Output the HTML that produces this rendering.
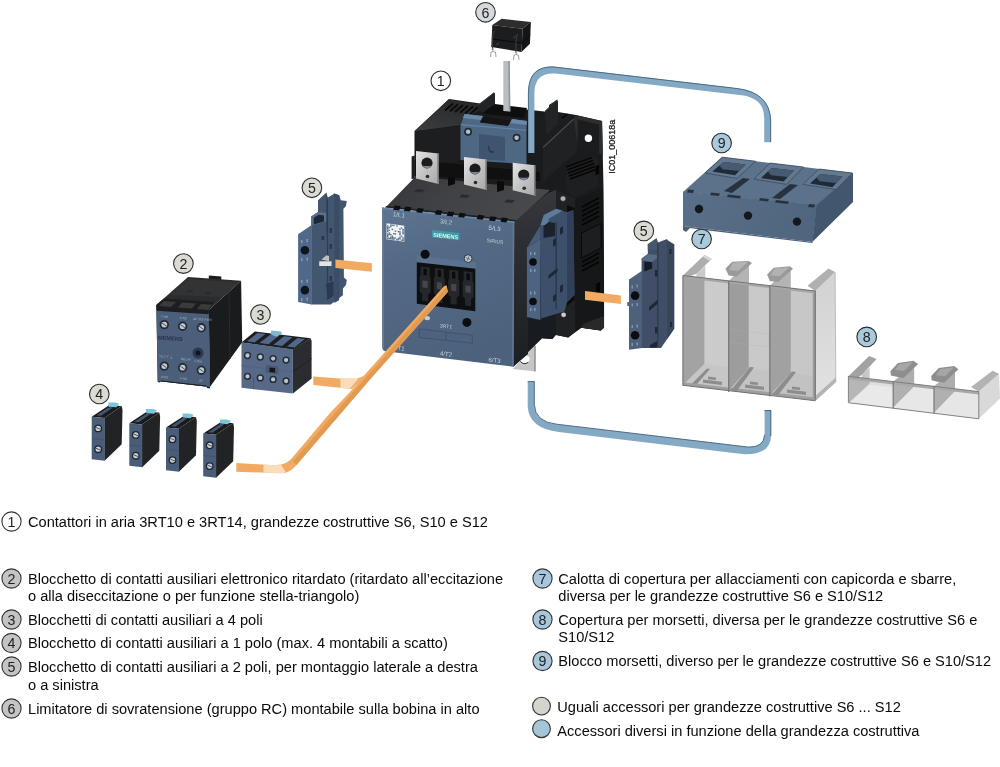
<!DOCTYPE html>
<html><head><meta charset="utf-8">
<style>
html,body{margin:0;padding:0;background:#fff;}
body{width:1000px;height:767px;position:relative;overflow:hidden;font-family:"Liberation Sans",sans-serif;}
svg{position:absolute;left:0;top:0;will-change:transform;}
text{font-family:"Liberation Sans",sans-serif;}
.t{font-size:14.61px;fill:#0a0a0a;}
.n{font-size:14.2px;fill:#222;text-anchor:middle;}
</style></head><body>
<svg id="art" width="1000" height="767" viewBox="0 0 1000 767">
<defs>
<linearGradient id="gFront" x1="0.1" y1="0" x2="0.4" y2="1">
<stop offset="0" stop-color="#5c7491"/><stop offset="0.35" stop-color="#536a86"/><stop offset="1" stop-color="#4c617c"/>
</linearGradient>
<linearGradient id="gSilver" x1="0" y1="0" x2="1" y2="1">
<stop offset="0" stop-color="#e4e4e4"/><stop offset="0.5" stop-color="#c4c4c4"/><stop offset="1" stop-color="#a8a8a8"/>
</linearGradient>
<linearGradient id="gBlackTop" x1="0" y1="0" x2="0" y2="1">
<stop offset="0" stop-color="#2a2b2d"/><stop offset="1" stop-color="#3d3e40"/>
</linearGradient>
<linearGradient id="gTube" x1="0" y1="0" x2="1" y2="0">
<stop offset="0" stop-color="#86aac6"/><stop offset="0.6" stop-color="#7ea4c2"/><stop offset="1" stop-color="#5f87a6"/>
</linearGradient>
<linearGradient id="gCov1" x1="0" y1="0" x2="1" y2="0">
<stop offset="0" stop-color="#9c9c9c"/><stop offset="0.45" stop-color="#a6a6a6"/><stop offset="0.46" stop-color="#cbcbcb"/><stop offset="1" stop-color="#c4c4c4"/>
</linearGradient>
<linearGradient id="gCovSide" x1="0" y1="0" x2="0" y2="1">
<stop offset="0" stop-color="#d2d2d2"/><stop offset="1" stop-color="#e2e2e2"/>
</linearGradient>
<linearGradient id="gTopFace" x1="0" y1="0" x2="1" y2="0.3">
<stop offset="0" stop-color="#343639"/><stop offset="0.5" stop-color="#404245"/><stop offset="1" stop-color="#47494c"/>
</linearGradient>
<linearGradient id="gCovBase" x1="0" y1="0" x2="1" y2="0">
<stop offset="0" stop-color="#cdcdcd"/><stop offset="1" stop-color="#c6c6c6"/>
</linearGradient>
<linearGradient id="gRearTop" x1="0.8" y1="0" x2="0.2" y2="1">
<stop offset="0" stop-color="#262729"/><stop offset="1" stop-color="#3a3b3d"/>
</linearGradient>
<linearGradient id="g9front" x1="0" y1="0" x2="1" y2="0.2">
<stop offset="0" stop-color="#5a7089"/><stop offset="1" stop-color="#50657e"/>
</linearGradient>
<linearGradient id="gSideFace" x1="0" y1="0" x2="0" y2="1">
<stop offset="0" stop-color="#36383c"/><stop offset="0.35" stop-color="#2a2d32"/><stop offset="1" stop-color="#1c1f24"/>
</linearGradient>
</defs>

<g id="contactor">
<!-- silver mounting foot bottom -->
<polygon points="512.800,368.900 534.300,345.400 535.600,346 535.600,371.500" fill="#c6c6c6"/>
<polygon points="534.300,345.400 535.600,346 535.600,371.500 534.300,371.300" fill="#8a8a8a"/>
<ellipse cx="524.800" cy="359.600" rx="5" ry="4" fill="#fff" transform="rotate(-25 524.800 359.600)"/>
<path d="M520.300,361.300 Q523.500,365.500 528.300,362.300" fill="none" stroke="#2a2a2a" stroke-width="1"/>
<!-- black rear body silhouette -->
<polygon points="414.5,131 449,99 487,104.5 487,98 494,92.5 495,106 549,112 549,105 557.5,99.5 558,112 576,115 602,121 603.5,188 604,262 604.100,327.800 600.800,330.400 581.300,327.800 568.200,337.600 554,334.500 552.500,339 542.200,338.200 520,300 414.500,176" fill="#1a1b1d"/>
<!-- top face of rear body (left) -->
<polygon points="414.800,131.200 448.600,99.600 486,105.500 462.200,121 460.900,125" fill="url(#gRearTop)"/>
<polygon points="416,131 462,126 462,160 416,174" fill="#1d1e20"/>
<!-- vents on top-left -->
<g stroke="#0b0b0c" stroke-width="1.8">
<line x1="445" y1="110.5" x2="453" y2="103.5"/><line x1="450" y1="111.3" x2="458" y2="104.3"/><line x1="455" y1="112" x2="463" y2="105"/><line x1="460" y1="112.8" x2="468" y2="105.8"/><line x1="465" y1="113.5" x2="473" y2="106.5"/><line x1="470" y1="114.3" x2="478" y2="107.3"/>
</g>
<!-- recess behind coil block -->
<polygon points="480,110 495,104 527,108 524,118 486,114" fill="#0e0e0f"/>
<!-- left fin -->
<polygon points="477.800,105.200 494.100,92.800 495,93.600 495,104 483,112.500 479.100,110.400" fill="#232426"/>
<line x1="477.800" y1="105.200" x2="494.100" y2="92.800" stroke="#3c3d3f" stroke-width="0.900"/>
<!-- right top face -->
<polygon points="536,120 549,112 576,115.500 573.700,119 543,147.400 536,140" fill="#1c1d1f"/>
<polygon points="545,111.300 556.300,100.500 558,101.500 558,123.800 546.300,135" fill="#232426"/>
<line x1="545" y1="111.300" x2="556.300" y2="100.500" stroke="#3a3b3d" stroke-width="1"/>
<polygon points="561.500,117.500 567,113.500 568,114.500 562.500,118.500" fill="#060606"/>
<!-- wall -->
<polygon points="543,147.400 573.700,119 577,121 577,152 560,166 543,182" fill="#202123"/>
<line x1="543" y1="147.400" x2="573.700" y2="119" stroke="#47484a" stroke-width="1.300"/>
<!-- right mounting plate -->
<polygon points="573.700,119 575.700,115.200 602.100,121 603,156.500 599.100,153.300 577.700,144.500" fill="#2d2e30"/>
<polygon points="577.700,119.600 599.100,124.400 599.100,153.300 577.700,144.500" fill="#1b1c1e"/>
<circle cx="588.400" cy="138.200" r="3.700" fill="#fff"/>
<!-- right-side vents upper -->
<polygon points="566,166 590,156 598,158 598,186 574,198 566,190" fill="#1e1f21"/>
<g stroke="#060606" stroke-width="1.4">
<line x1="566" y1="167" x2="592" y2="157.5"/><line x1="567" y1="170" x2="593" y2="160.5"/><line x1="568" y1="173" x2="594" y2="163.5"/><line x1="569" y1="176" x2="595" y2="166.5"/><line x1="570" y1="179" x2="596" y2="169.5"/>
</g>
<rect x="595.5" y="166" width="3.6" height="9" fill="#050505" transform="skewY(-25) translate(0,278)"/>
<!-- right side face panels -->
<polygon points="575,200 603,188 604,327.500 600.800,330.400 581.300,327.800 575,332" fill="#161718"/>
<polygon points="556,190 575,198 575,332 568.200,337.600 556,335" fill="#202123"/>
<polygon points="567,205 574.500,208 574.500,300 567,306" fill="#0c0c0d"/>
<g stroke="#050505" stroke-width="1.6">
<line x1="582" y1="207" x2="599" y2="198"/><line x1="582" y1="211.5" x2="599" y2="202.5"/><line x1="582" y1="216" x2="599" y2="207"/><line x1="582" y1="220.500" x2="599" y2="211.5"/><line x1="582" y1="225" x2="599" y2="216"/>
<line x1="582" y1="262" x2="599" y2="253"/><line x1="582" y1="266.5" x2="599" y2="257.5"/><line x1="582" y1="271" x2="599" y2="262"/>
</g>
<polygon points="581.500,233 601,223.500 601,248 581.500,258" fill="#1d1e20" stroke="#090909" stroke-width="1"/>
<polygon points="596,284 600,282 600,292 596,294" fill="#050505"/>
<polygon points="581.300,327.800 600.800,330.400 604,327.500 604,316 583,324" fill="#29292b"/>
<!-- blue body right side face -->
<polygon points="515,221 548,193 556,190 556,335 552.500,339 542.200,338.200 513,367" fill="#181b20"/>
<polygon points="514,221 548,193 556,190 556,250 528,262 528,354 513.500,366.500" fill="url(#gSideFace)"/>
<!-- top face of blue body -->
<polygon points="385.500,207.500 414.100,178 414.700,176.200 550,190 515,221.500" fill="url(#gTopFace)"/>
<polygon points="385,207.300 386.300,206 516,220 515,221.500" fill="#1f2022"/>

<g fill="#2a2b2e">
<polygon points="417,189 425,189.800 422,192.500 414,191.700"/><polygon points="462,194.500 470,195.300 467,198 459,197.200"/><polygon points="507,199.500 515,200.300 512,203 504,202.200"/>
</g>
<g fill="#0b0b0c">
<polygon points="448,176 455,176.700 455,184 448,186"/><polygon points="497,181 504,181.700 504,190 497,192"/>
</g>
<polygon points="411.600,156.500 414.700,155.500 414.700,178.500 411.600,179" fill="#1d1e20"/>
<!-- black ledge behind terminals -->
<polygon points="414.500,160 540,172 540,181 414.500,176" fill="#101011"/>
<!-- blue coil block -->
<polygon points="460.500,125.500 464.500,114 483,116 480,122 508,125.500 512,119 527,121 526.500,127 526.500,164 460.500,160" fill="#4e6884"/>
<polygon points="464.500,114 483,116 481,120 463,118" fill="#6a88a8"/>
<polygon points="512,119 527,121 526.500,125 510,123" fill="#6a88a8"/>
<polygon points="483,117 511,120.500 508,126 480,122.500" fill="#141516"/>
<polygon points="479,134 505,137 505,161 479,159" fill="#3f546e"/>
<path d="M489,146 Q487.500,152.500 494,152" fill="none" stroke="#26354a" stroke-width="1.200"/>
<line x1="460.900" y1="124.600" x2="526.500" y2="130.200" stroke="#6383a6" stroke-width="1.100"/>
<circle cx="468.100" cy="131.800" r="3.100" fill="#bdbdbd" stroke="#1f2a3a" stroke-width="1.700"/>
<circle cx="516.600" cy="137.700" r="3.100" fill="#bdbdbd" stroke="#1f2a3a" stroke-width="1.700"/>
<!-- silver terminals -->
<g id="term">
<polygon points="416,151 438.500,153.500 438.500,184 416,178.500" fill="url(#gSilver)"/>
<polygon points="437.300,153.400 438.800,153.500 438.800,184.100 437.300,183.700" fill="#7c7c7c"/>
<ellipse cx="427" cy="163" rx="5.600" ry="5.400" fill="#1b1b1d"/>
<path d="M422.300,165.500 Q427,171.500 431.700,165.500 Q427,166.500 422.300,165.500Z" fill="#7a8694"/>
<circle cx="427.500" cy="176.500" r="1.800" fill="#2a2a2c"/>
</g>
<g transform="translate(48 6)">
<polygon points="416,151 438.500,153.500 438.500,184 416,178.500" fill="url(#gSilver)"/>
<polygon points="437.300,153.400 438.800,153.500 438.800,184.100 437.300,183.700" fill="#7c7c7c"/>
<ellipse cx="427" cy="163" rx="5.600" ry="5.400" fill="#1b1b1d"/>
<path d="M422.300,165.500 Q427,171.500 431.700,165.500 Q427,166.500 422.300,165.500Z" fill="#7a8694"/>
<circle cx="427.500" cy="176.500" r="1.800" fill="#2a2a2c"/>
</g>
<g transform="translate(96.700 11.800)">
<polygon points="416,151 438.500,153.500 438.500,184 416,178.500" fill="url(#gSilver)"/>
<polygon points="437.300,153.400 438.800,153.500 438.800,184.100 437.300,183.700" fill="#7c7c7c"/>
<ellipse cx="427" cy="163" rx="5.600" ry="5.400" fill="#1b1b1d"/>
<path d="M422.300,165.500 Q427,171.500 431.700,165.500 Q427,166.500 422.300,165.500Z" fill="#7a8694"/>
<circle cx="427.500" cy="176.500" r="1.800" fill="#2a2a2c"/>
</g>
<!-- front face -->
<path d="M382.200,207.500 L514.300,221.500 L513.600,366.800 L385,351.200 Q382.400,350.800 382.300,348 Z" fill="url(#gFront)"/>
<polygon points="512.800,221.300 514.300,221.500 513.600,366.800 512.100,366.600" fill="#6b83a0" opacity="0.7"/>
<polygon points="382.200,207.500 383.800,207.700 384.100,349.500 382.300,348" fill="#64798f"/>
<polygon points="382.200,207.500 514.300,221.500 514.300,223 382.200,209" fill="#6d87a6"/>
<g fill="#0d0e10"><polygon points="394.7,205.4 400.7,206.1 399.1,210.4 393.1,209.7"/><polygon points="405.5,206.6 411.5,207.3 409.9,211.6 403.9,210.9"/><polygon points="417.8,208.0 423.8,208.7 422.2,213.0 416.2,212.3"/><polygon points="436.5,210.1 442.5,210.8 440.9,215.1 434.9,214.4"/><polygon points="448.2,211.4 454.2,212.1 452.6,216.4 446.6,215.7"/><polygon points="459.8,212.7 465.8,213.4 464.2,217.7 458.2,217.0"/><polygon points="478.3,214.8 484.3,215.5 482.7,219.8 476.7,219.1"/><polygon points="490.6,216.2 496.6,216.9 495.0,221.2 489.0,220.5"/><polygon points="502.0,217.5 508.0,218.2 506.4,222.5 500.4,221.8"/></g>
<!-- QR -->
<g transform="translate(387 223.8) skewY(8.46) translate(-387 -223.8)">
<rect x="386.5" y="223.3" width="17.8" height="16" fill="#f2f4f6"/>
<g fill="#5d728d"><rect x="387.00" y="225.16" width="1.53" height="1.36"/><rect x="387.00" y="226.53" width="1.53" height="1.36"/><rect x="387.00" y="227.89" width="1.53" height="1.36"/><rect x="387.00" y="229.25" width="1.53" height="1.36"/><rect x="387.00" y="230.62" width="1.53" height="1.36"/><rect x="387.00" y="233.35" width="1.53" height="1.36"/><rect x="387.00" y="234.71" width="1.53" height="1.36"/><rect x="387.00" y="236.07" width="1.53" height="1.36"/><rect x="387.00" y="237.44" width="1.53" height="1.36"/><rect x="388.53" y="226.53" width="1.53" height="1.36"/><rect x="388.53" y="229.25" width="1.53" height="1.36"/><rect x="388.53" y="231.98" width="1.53" height="1.36"/><rect x="388.53" y="233.35" width="1.53" height="1.36"/><rect x="388.53" y="237.44" width="1.53" height="1.36"/><rect x="390.05" y="223.80" width="1.53" height="1.36"/><rect x="390.05" y="225.16" width="1.53" height="1.36"/><rect x="390.05" y="233.35" width="1.53" height="1.36"/><rect x="390.05" y="236.07" width="1.53" height="1.36"/><rect x="390.05" y="237.44" width="1.53" height="1.36"/><rect x="391.58" y="223.80" width="1.53" height="1.36"/><rect x="391.58" y="227.89" width="1.53" height="1.36"/><rect x="391.58" y="234.71" width="1.53" height="1.36"/><rect x="391.58" y="236.07" width="1.53" height="1.36"/><rect x="391.58" y="237.44" width="1.53" height="1.36"/><rect x="393.11" y="223.80" width="1.53" height="1.36"/><rect x="393.11" y="231.98" width="1.53" height="1.36"/><rect x="393.11" y="236.07" width="1.53" height="1.36"/><rect x="393.11" y="237.44" width="1.53" height="1.36"/><rect x="394.64" y="229.25" width="1.53" height="1.36"/><rect x="394.64" y="231.98" width="1.53" height="1.36"/><rect x="394.64" y="236.07" width="1.53" height="1.36"/><rect x="396.16" y="223.80" width="1.53" height="1.36"/><rect x="396.16" y="237.44" width="1.53" height="1.36"/><rect x="397.69" y="229.25" width="1.53" height="1.36"/><rect x="397.69" y="236.07" width="1.53" height="1.36"/><rect x="397.69" y="237.44" width="1.53" height="1.36"/><rect x="399.22" y="226.53" width="1.53" height="1.36"/><rect x="399.22" y="229.25" width="1.53" height="1.36"/><rect x="399.22" y="230.62" width="1.53" height="1.36"/><rect x="399.22" y="231.98" width="1.53" height="1.36"/><rect x="399.22" y="234.71" width="1.53" height="1.36"/><rect x="399.22" y="236.07" width="1.53" height="1.36"/><rect x="400.75" y="225.16" width="1.53" height="1.36"/><rect x="400.75" y="233.35" width="1.53" height="1.36"/><rect x="400.75" y="237.44" width="1.53" height="1.36"/><rect x="402.27" y="226.53" width="1.53" height="1.36"/><rect x="402.27" y="227.89" width="1.53" height="1.36"/><rect x="402.27" y="229.25" width="1.53" height="1.36"/><rect x="402.27" y="230.62" width="1.53" height="1.36"/><rect x="402.27" y="234.71" width="1.53" height="1.36"/><rect x="402.27" y="236.07" width="1.53" height="1.36"/><rect x="402.27" y="237.44" width="1.53" height="1.36"/></g>
</g>
<!-- siemens logo -->
<polygon points="432,230 459.500,233 459.500,240.200 432,237.200" fill="#3b9ba6"/>
<text x="445.700" y="238" font-size="5.600" font-weight="bold" fill="#e8f4f6" text-anchor="middle" transform="rotate(6.200 445.700 236)">SIEMENS</text>
<g font-size="6.200" fill="#c9d3df" text-anchor="middle">
<text x="398.800" y="217" transform="rotate(6.400 398.800 216)">1/L1</text>
<text x="446" y="224" transform="rotate(6.400 446 223)">3/L2</text>
<text x="494.500" y="230.500" transform="rotate(6.400 494.500 229)">5/L3</text>
<text x="495" y="243" font-size="5" transform="rotate(6.400 495 242)">SIRIUS</text>
<text x="446" y="328" font-size="5" transform="rotate(6.400 446 327)">3RT1</text>
<text x="401" y="350.500" transform="rotate(6.400 401 349)">T1</text>
<text x="446" y="356" transform="rotate(6.400 446 355)">4/T2</text>
<text x="494.500" y="362.500" transform="rotate(6.400 494.500 361)">6/T3</text>
</g>
<!-- connector block -->
<polygon points="416.800,255.800 476,262.300 476,269 416.800,262.500" fill="#5a718f"/>
<polygon points="416.800,262.200 475.300,268.700 475.300,311.200 416.800,303.800" fill="#0e0f11"/>
<polygon points="420.6,266.5 429.6,267.5 429.6,276.5 430.6,277.5 430.6,292.5 428.1,294.5 428.1,301.5 422.1,300.8 422.1,293.8 419.6,291.5 419.6,276.5 420.6,275.5" fill="#25272b"/><polygon points="422.5,280.5 427.7,281.1 427.7,288.1 422.5,287.5" fill="#44474c"/><polygon points="423.5,268.5 426.7,268.9 426.7,275.5 423.5,275.1" fill="#0a0a0c"/><polygon points="434.9,268.1 443.9,269.1 443.9,278.1 444.9,279.1 444.9,294.1 442.4,296.1 442.4,303.1 436.4,302.4 436.4,295.4 433.9,293.1 433.9,278.1 434.9,277.1" fill="#25272b"/><polygon points="436.8,282.1 442.0,282.7 442.0,289.7 436.8,289.1" fill="#44474c"/><polygon points="437.8,270.1 441.0,270.5 441.0,277.1 437.8,276.7" fill="#0a0a0c"/><polygon points="449.2,269.7 458.2,270.7 458.2,279.7 459.2,280.7 459.2,295.7 456.7,297.7 456.7,304.7 450.7,304.0 450.7,297.0 448.2,294.7 448.2,279.7 449.2,278.7" fill="#25272b"/><polygon points="451.1,283.7 456.3,284.3 456.3,291.3 451.1,290.7" fill="#44474c"/><polygon points="452.1,271.7 455.3,272.1 455.3,278.7 452.1,278.3" fill="#0a0a0c"/><polygon points="463.6,271.3 472.6,272.3 472.6,281.3 473.6,282.3 473.6,297.3 471.1,299.3 471.1,306.3 465.1,305.6 465.1,298.6 462.6,296.3 462.6,281.3 463.6,280.3" fill="#25272b"/><polygon points="465.5,285.3 470.7,285.9 470.7,292.9 465.5,292.3" fill="#44474c"/><polygon points="466.5,273.3 469.7,273.7 469.7,280.3 466.5,279.9" fill="#0a0a0c"/>
<circle cx="425.100" cy="254.300" r="4.500" fill="#0c0d0f"/>
<circle cx="468.100" cy="258.600" r="3.900" fill="#c4cace" stroke="#2b3848" stroke-width="1"/>
<path d="M465.800,257.600 L470.400,259.600 M469.100,256.300 L467.100,260.900" stroke="#5d666e" stroke-width="0.900"/>
<ellipse cx="427.200" cy="318.100" rx="2.800" ry="2.200" fill="#c8ccd0"/>
<circle cx="466.900" cy="322.400" r="4.500" fill="#0c0d0f"/>
<polygon points="419.300,328.900 472.400,335.300 472.400,343.200 419.300,337.500" fill="#4c627e" stroke="#3c4f67" stroke-width="0.800"/>
<line x1="446" y1="332.100" x2="446" y2="340.400" stroke="#3c4f67" stroke-width="0.800"/>
<!-- side aux block on contactor -->
<polygon points="540.500,238.900 540.500,225.200 543.800,215.100 556.200,208.800 567.100,212.300 573.400,210.100 574.500,295.100 567.100,301.900 564.400,311.500 541.100,318.400" fill="#3c506b"/>
<polygon points="526.900,247.500 540.500,238.900 540.500,320 526.900,317" fill="#4c6382"/>
<polygon points="527.400,247.100 540.500,225.200 540.500,238.900" fill="#465c79"/>
<polygon points="540.500,225.200 543.800,215.100 556.200,208.800 562.500,210.800 549,218.500 547.500,225" fill="#5f7b9b"/>
<polygon points="543.500,226 549,222 555,223 555,236 543.500,238" fill="#1a222e"/>
<polygon points="567.100,214 573.400,210.100 574.500,295.100 567.100,301.900" fill="#2f4058"/>
<line x1="556.200" y1="222" x2="556.200" y2="309" stroke="#26354a" stroke-width="1.200"/>
<g fill="#1d2838">
<polygon points="553,240 556,238 556,245 553,247"/><polygon points="548.500,275 557.500,268 557.500,272 548.500,279"/><polygon points="553,296 556,294 556,300 553,302"/>
<polygon points="560,228 563,226 563,233 560,235"/><polygon points="560,286 563,284 563,291 560,293"/>
</g>
<circle cx="533" cy="262" r="3.800" fill="#0b0c0e"/><circle cx="533" cy="301.500" r="3.800" fill="#0b0c0e"/>
<g fill="#7e93ad"><rect x="530" y="252" width="1.500" height="3"/><rect x="534" y="252" width="1.500" height="3"/><rect x="530" y="269" width="1.500" height="3"/><rect x="534" y="269" width="1.500" height="3"/><rect x="530" y="291.500" width="1.500" height="3"/><rect x="534" y="291.500" width="1.500" height="3"/><rect x="530" y="308" width="1.500" height="3"/><rect x="534" y="308" width="1.500" height="3"/></g>
<circle cx="563" cy="198.600" r="2.600" fill="#aeb4ba" stroke="#444" stroke-width="0.600"/><circle cx="563.600" cy="314.800" r="2.400" fill="#c8ccd0"/>
</g>

<g id="tubes">
<!-- gray rod from item 6 -->
<polygon points="503.300,61 509.800,61 510.300,111.500 503.300,111" fill="#b9bec3"/>
<polygon points="508.300,61 509.800,61 510.300,111.500 508.800,111.400" fill="#8f959b"/>
<!-- top blue tube -->
<path d="M528.200,153 L528.200,93 Q528.200,66 553,66.600 L737,88.200 Q769.500,92 771,120 L771,142.200 L764.200,142.200 L764.200,118 Q764.200,98 741.600,95.200 L555.600,73.500 Q534.400,72 534.400,93.400 L534.400,153 Z" fill="#84a9c4"/>
<path d="M528.400,110 L528.400,93 Q528.400,66.200 553,66.900 L737,88.500 Q769.300,92.300 770.700,120 L770.700,142" fill="none" stroke="#41617a" stroke-width="0.900"/>
<!-- bottom blue tube -->
<path d="M527.700,381.500 L527.700,406.500 Q529,428.500 558.800,432 L742.100,454.100 Q770.500,455.500 771.100,435.900 L771.100,410.300 L764.600,410.300 L764.600,434.800 Q764,447.500 748.400,447.100 L556.700,424.200 Q535,422 534.300,404.400 L534.300,381.500 Z" fill="#84a9c4"/>
<path d="M764.600,410.500 L771,410.500 M770.800,410.300 L770.800,435.900 M764.600,434.800 Q764,447.500 748.400,447.100 L556.700,424.200 Q535,422 534.300,404.400 L534.300,381.500 L527.700,381.700" fill="none" stroke="#41617a" stroke-width="0.900"/>
</g>

<g id="item6">
<polygon points="492.300,25 501.700,18.800 530.900,21.900 522.600,28.700" fill="#2c2d2f"/>
<polygon points="492.300,25 522.600,28.700 521.500,52 491.300,47" fill="#1c1d1f"/>
<polygon points="522.600,28.700 530.900,21.900 529.900,43.800 521.500,52" fill="#141516"/>
<line x1="491.800" y1="39" x2="522" y2="43" stroke="#0a0a0b" stroke-width="1"/>
<line x1="522" y1="43" x2="530.300" y2="35" stroke="#0a0a0b" stroke-width="1"/>
<g stroke="#3a3b3d" stroke-width="1.200" fill="none">
<path d="M494.500,31 Q492,33 492.500,50"/><path d="M518,34 Q515.500,36 516,53"/><path d="M496,45 L499,43"/><path d="M513,38 L516,36"/>
</g>
<g stroke="#a4a7aa" stroke-width="1.100" fill="none">
<path d="M490.500,57 L491,52.500 Q493,50.500 495.500,52.500 L496,57 M493,48 L493,51.500"/>
<path d="M513.500,60 L514,55.500 Q516,53.500 518.500,55.500 L519,60 M516.300,51 L516.300,54.500"/>
</g>
</g>

<g id="item5L">
<polygon points="311.200,225.700 311.200,216.400 318,212.100 318,200.300 326.400,192.600 327.600,197.700 334.400,193.500 339.200,195.200 340.800,200.300 346.800,201.100 345.900,206.200 343.400,208.700 343.900,277.400 346.800,279.900 345.900,285 342.900,288.400 342.900,295.200 330.700,304.500 311.200,304.500" fill="#43566f"/>
<polygon points="298.100,234.200 311.700,225 311.700,304.500 298.100,302" fill="#52688a"/>
<polygon points="311.200,216.400 318,212.100 326.500,213 326.500,221.500 311.200,225.700" fill="#58708f"/>
<polygon points="313.700,217.800 318.500,214.800 324,215.400 324,221.600 313.700,224.400" fill="#1e2837"/>
<polygon points="326.400,192.600 327.600,197.700 327.600,230 326.400,236" fill="#2f3f57"/>
<polygon points="334.400,193.500 339.200,195.200 339.200,300 334.400,303" fill="#3a4c66"/>
<line x1="327.500" y1="200" x2="327.500" y2="300" stroke="#2d3d54" stroke-width="1.200"/>
<g fill="#2a3950">
<rect x="329.500" y="228" width="2.500" height="5"/><rect x="329.500" y="244" width="2.500" height="5"/><rect x="329.500" y="276" width="2.500" height="5"/>
<polygon points="326,284 333.500,281 333.500,296 328,299.500"/>
<rect x="321.500" y="236" width="3" height="4"/>
</g>
<circle cx="304.900" cy="250.300" r="4.300" fill="#10151d"/><circle cx="304.900" cy="290.100" r="4.300" fill="#10151d"/>
<g fill="#8398b3"><rect x="301" y="240" width="1.500" height="3.200"/><rect x="306.500" y="239" width="1.500" height="3.200"/><rect x="301" y="258" width="1.500" height="3.200"/><rect x="306.500" y="257.500" width="1.500" height="3.200"/><rect x="301" y="280" width="1.500" height="3.200"/><rect x="306.500" y="279.500" width="1.500" height="3.200"/><rect x="301" y="298" width="1.500" height="3.200"/><rect x="306.500" y="297.500" width="1.500" height="3.200"/></g>
<polygon points="321.400,259.500 326.500,255.200 329,256 329,261.300" fill="#bfbfbf"/>
<polygon points="319.200,261.300 331.500,261.300 331.500,266 319.200,266" fill="#e4e4e4"/>
</g>
<g id="item2">
<polygon points="208.800,275.500 221.300,276.500 221.300,281 208.800,280" fill="#1a1b1d"/>
<polygon points="156.700,304.700 188,277.100 241.100,280.700 208.800,310" fill="#2b2c2e"/>
<polygon points="170,295 188,279 238,282.500 222,297" fill="#323335"/>
<polygon points="208.800,310 241.100,280.700 242.200,342.200 209.900,387" fill="#1a1b1d"/>
<line x1="229" y1="292" x2="230" y2="359" stroke="#2a2b2d" stroke-width="1"/>
<polygon points="156.300,305 208.800,309.500 209.900,387 157.700,381" fill="#1d1e20"/>
<polygon points="156.500,310.700 208.800,314.200 209.900,387 157.700,381" fill="#4b5e7a"/>
<polygon points="156.300,304.700 164,298.500 214,302 208.800,310 208.800,313 156.300,309.900" fill="#1d1e20"/>
<g fill="#3a3b3d"><polygon points="164,301 176,302 171,307 159,306"/><polygon points="182,302.500 196,303.500 192,308.500 178,307.500"/><polygon points="201,304 212,304.800 208,310 197,309"/></g>
<g fill="#2a2b2d"><rect x="187" y="290" width="6" height="2.500"/><rect x="205" y="292" width="6" height="2.500"/></g>
<g fill="#c3c9cf" stroke="#232b38" stroke-width="1.800">
<circle cx="164.300" cy="324.600" r="3.800"/><circle cx="182.600" cy="326.200" r="3.800"/><circle cx="201.300" cy="327.800" r="3.800"/>
<circle cx="164.300" cy="366.100" r="3.800"/><circle cx="182.600" cy="367.700" r="3.800"/><circle cx="201.300" cy="370.200" r="3.800"/>
</g>
<g stroke="#4a525c" stroke-width="1">
<line x1="162" y1="323" x2="166.600" y2="326.200"/><line x1="180.300" y1="324.600" x2="184.900" y2="327.800"/><line x1="199" y1="326.200" x2="203.600" y2="329.400"/>
<line x1="162" y1="364.500" x2="166.600" y2="367.700"/><line x1="180.300" y1="366.100" x2="184.900" y2="369.300"/><line x1="199" y1="368.600" x2="203.600" y2="371.800"/>
</g>
<g font-size="3.200" fill="#a9b6c8">
<text x="160" y="317.500" transform="rotate(4 160 317)">.7 NO</text><text x="179" y="319" transform="rotate(4 179 318)">.5 NC</text><text x="193" y="319.800" transform="rotate(4 193 319)">AC 200-240V</text>
<text x="160" y="378" transform="rotate(4 160 378)">.8 NO</text><text x="179" y="379.500" transform="rotate(4 179 379)">.6 NC</text><text x="199" y="381.500" transform="rotate(4 199 381)">A2</text>
<text x="159" y="357" transform="rotate(4 159 357)">Y△ 1 Y △</text><text x="181" y="360" transform="rotate(4 181 360)">RELAY</text><text x="194" y="362" transform="rotate(4 194 362)">1-60s</text>
</g>
<text x="157.300" y="339.400" font-size="5.600" font-weight="bold" fill="#27344a" transform="rotate(3.500 157.300 339)">SIEMENS</text>
<circle cx="198" cy="353" r="5.500" fill="#2b3a4f"/><circle cx="198" cy="353" r="2.500" fill="#11161e"/>
<polygon points="157.700,381 209.900,387 209.900,388.500 207,388 206,385.500 161,380.500 160,382.500 157.700,382" fill="#1a1b1d"/>
</g>
<g id="item3">
<polygon points="241.500,342.400 254.800,331.500 310.600,338.200 292.900,349.700" fill="#1d1e20"/>
<g fill="#52688a"><polygon points="247,341.300 257.500,333 265.500,334 254.500,342.500"/><polygon points="259.500,343 270.500,334.600 279,335.600 268.500,344.200"/><polygon points="273.500,344.800 284,336.300 292.500,337.300 282,346"/><polygon points="287,346.500 297.500,338 305,339 294.500,347.400"/></g>
<polygon points="292.900,349.200 310.600,338.200 311.600,340.900 311.600,378.400 292.900,393.500" fill="#2b2c2f"/>
<line x1="293" y1="371.500" x2="311.600" y2="358.500" stroke="#1c1d1f" stroke-width="0.800"/>
<polygon points="241.500,342.400 292.900,349.200 292.900,393.500 241.500,387.800" fill="#566a88"/>
<polygon points="271,330.400 281,331.500 282,333.600 276.700,336.700 271,334.600" fill="#7fb6d0"/>
<g fill="#bcc3ca" stroke="#252d3a" stroke-width="1.500">
<circle cx="247.500" cy="355.500" r="2.900"/><circle cx="260.300" cy="357" r="2.900"/><circle cx="273.100" cy="358.600" r="2.900"/><circle cx="286.100" cy="360.100" r="2.900"/>
<circle cx="247.500" cy="376.300" r="2.900"/><circle cx="260.300" cy="377.900" r="2.900"/><circle cx="273.100" cy="379.400" r="2.900"/><circle cx="286.100" cy="381" r="2.900"/>
</g>
<polygon points="265.800,364.800 278.300,366.400 278.300,374.200 265.800,372.700" fill="#475a76"/><polygon points="269.400,367.400 275.100,368 275.100,372.700 269.400,372.100" fill="#17181a"/>
<line x1="241.500" y1="365.500" x2="265.800" y2="368.500" stroke="#4c607d" stroke-width="0.800"/><line x1="278.300" y1="370" x2="292.900" y2="371.800" stroke="#4c607d" stroke-width="0.800"/>
<line x1="253.500" y1="377" x2="253.500" y2="389" stroke="#3f516b" stroke-width="0.700"/>
</g>
<g id="item4">
<g id="b4">
<polygon points="91.700,416.700 108.700,405.600 121.700,406.100 104.300,417.900" fill="#1a1b1d"/>
<polygon points="96.500,415.300 108.800,407.200 113,407.400 101,415.800" fill="#43566f"/>
<polygon points="104.300,417.900 121.700,406.100 122.500,410 121.700,444.300 104.300,461" fill="#222325"/>
<polygon points="91.700,416.700 104.700,417.900 104.700,460.800 91.700,459.300" fill="#4a5d78"/>
<polygon points="108.200,402.600 115.200,402.600 119.300,403.800 116.400,407.300 108.700,406.700" fill="#7cc4d8"/>
<circle cx="98.200" cy="428.400" r="3.300" fill="#c9ced3" stroke="#1d2530" stroke-width="1.300"/><circle cx="98.200" cy="449.200" r="3.300" fill="#c9ced3" stroke="#1d2530" stroke-width="1.300"/>
<line x1="96" y1="427.500" x2="100.500" y2="429.300" stroke="#3a4450" stroke-width="0.900"/><line x1="96" y1="448.300" x2="100.500" y2="450.100" stroke="#3a4450" stroke-width="0.900"/>
<line x1="92" y1="438.500" x2="104" y2="439.800" stroke="#3d4e66" stroke-width="0.700"/>
</g>
<g transform="translate(37.600 6.500)">
<polygon points="91.700,416.700 108.700,405.600 121.700,406.100 104.300,417.900" fill="#1a1b1d"/>
<polygon points="96.500,415.300 108.800,407.200 113,407.400 101,415.800" fill="#43566f"/>
<polygon points="104.300,417.900 121.700,406.100 122.500,410 121.700,444.300 104.300,461" fill="#222325"/>
<polygon points="91.700,416.700 104.700,417.900 104.700,460.800 91.700,459.300" fill="#4a5d78"/>
<polygon points="108.200,402.600 115.200,402.600 119.300,403.800 116.400,407.300 108.700,406.700" fill="#7cc4d8"/>
<circle cx="98.200" cy="428.400" r="3.300" fill="#c9ced3" stroke="#1d2530" stroke-width="1.300"/><circle cx="98.200" cy="449.200" r="3.300" fill="#c9ced3" stroke="#1d2530" stroke-width="1.300"/>
<line x1="96" y1="427.500" x2="100.500" y2="429.300" stroke="#3a4450" stroke-width="0.900"/><line x1="96" y1="448.300" x2="100.500" y2="450.100" stroke="#3a4450" stroke-width="0.900"/>
<line x1="92" y1="438.500" x2="104" y2="439.800" stroke="#3d4e66" stroke-width="0.700"/>
</g>
<g transform="translate(74.300 10.900)">
<polygon points="91.700,416.700 108.700,405.600 121.700,406.100 104.300,417.900" fill="#1a1b1d"/>
<polygon points="96.500,415.300 108.800,407.200 113,407.400 101,415.800" fill="#43566f"/>
<polygon points="104.300,417.900 121.700,406.100 122.500,410 121.700,444.300 104.300,461" fill="#222325"/>
<polygon points="91.700,416.700 104.700,417.900 104.700,460.800 91.700,459.300" fill="#4a5d78"/>
<polygon points="108.200,402.600 115.200,402.600 119.300,403.800 116.400,407.300 108.700,406.700" fill="#7cc4d8"/>
<circle cx="98.200" cy="428.400" r="3.300" fill="#c9ced3" stroke="#1d2530" stroke-width="1.300"/><circle cx="98.200" cy="449.200" r="3.300" fill="#c9ced3" stroke="#1d2530" stroke-width="1.300"/>
<line x1="96" y1="427.500" x2="100.500" y2="429.300" stroke="#3a4450" stroke-width="0.900"/><line x1="96" y1="448.300" x2="100.500" y2="450.100" stroke="#3a4450" stroke-width="0.900"/>
<line x1="92" y1="438.500" x2="104" y2="439.800" stroke="#3d4e66" stroke-width="0.700"/>
</g>
<g transform="translate(111.500 16.900)">
<polygon points="91.700,416.700 108.700,405.600 121.700,406.100 104.300,417.900" fill="#1a1b1d"/>
<polygon points="96.500,415.300 108.800,407.200 113,407.400 101,415.800" fill="#43566f"/>
<polygon points="104.300,417.900 121.700,406.100 122.500,410 121.700,444.300 104.300,461" fill="#222325"/>
<polygon points="91.700,416.700 104.700,417.900 104.700,460.800 91.700,459.300" fill="#4a5d78"/>
<polygon points="108.200,402.600 115.200,402.600 119.300,403.800 116.400,407.300 108.700,406.700" fill="#7cc4d8"/>
<circle cx="98.200" cy="428.400" r="3.300" fill="#c9ced3" stroke="#1d2530" stroke-width="1.300"/><circle cx="98.200" cy="449.200" r="3.300" fill="#c9ced3" stroke="#1d2530" stroke-width="1.300"/>
<line x1="96" y1="427.500" x2="100.500" y2="429.300" stroke="#3a4450" stroke-width="0.900"/><line x1="96" y1="448.300" x2="100.500" y2="450.100" stroke="#3a4450" stroke-width="0.900"/>
<line x1="92" y1="438.500" x2="104" y2="439.800" stroke="#3d4e66" stroke-width="0.700"/>
</g>
</g>

<g id="orange">
<!-- 5L bar -->
<polygon points="335.400,259.600 371.900,263.300 371.900,271.700 335.400,268" fill="#f2aa62"/>
<!-- 5R bar -->
<polygon points="585,291 620.900,295.500 620.900,304 585,299.700" fill="#f2aa62"/>
<!-- item3 branch -->
<path d="M313.300,376.500 L340,378.500 L356,378.800 Q361,378 364.500,375.300 L352,389 L340,387.800 L313.300,385 Z" fill="#f2aa62"/>
<polygon points="340.400,378.600 356,378.800 358.500,378.600 350,388.800 340.400,387.900" fill="#fbdcb9"/>
<!-- long diagonal -->
<path d="M444,286.300 L446.500,285.300 L448,291.700 L405.100,340 L371.700,377.500 L335.200,420 L296.500,465 Q290,473 281.600,473.300 L236.300,471.700 L236.300,463.100 L275,465.300 Q285,465 291,459.200 L330,413 L350.500,391.500 L361.300,378.600 L395.800,340 Z" fill="#f2aa62"/>
<path d="M448,291.700 L405.100,340 L371.700,377.500 L335.200,420 L296.500,465 L293,461.500 L332,416.500 L368,375 L401.500,337.500 L446,287.500 Z" fill="#e19a52"/>
<polygon points="263.500,464.600 275,465.300 281,464.600 286,472.600 281.600,473.300 263.500,472.700" fill="#fbdcb9"/>
</g>

<g id="item5R">
<polygon points="641.600,271 641.600,258.400 647.800,254 647.800,244.300 656.600,238.200 657.800,242.600 667.100,239.100 668.900,243.500 674.200,244.300 674.200,328.700 661,348 641.600,348" fill="#404f67"/>
<polygon points="629,279.500 642.100,270.700 642.100,348 629,349.800" fill="#4d607c"/>
<polygon points="641.600,258.400 647.800,254 657.500,254.900 657.500,257.500 652.200,261.900 641.600,260.500" fill="#586b84"/>
<polygon points="644.300,261.500 652.200,262.300 652.200,268.500 644.300,271.500" fill="#161c26"/>
<polygon points="647.800,244.300 656.600,238.200 657.800,242.600 657.800,250 647.800,249.500" fill="#47576f"/>
<polygon points="667.100,240 674.200,244.300 674.200,328.700 667.100,339" fill="#384659"/>
<line x1="657.800" y1="243" x2="657.800" y2="347" stroke="#2c384a" stroke-width="1.200"/>
<circle cx="635.100" cy="295.600" r="4.300" fill="#0c0d10"/><circle cx="635.100" cy="335.300" r="4.300" fill="#0c0d10"/>
<g fill="#8093ab"><rect x="631.500" y="285.500" width="1.500" height="3"/><rect x="636.500" y="284.500" width="1.500" height="3"/><rect x="631.500" y="303.500" width="1.500" height="3"/><rect x="636.500" y="303" width="1.500" height="3"/><rect x="631.500" y="325" width="1.500" height="3"/><rect x="636.500" y="324.500" width="1.500" height="3"/><rect x="631.500" y="343" width="1.500" height="3"/><rect x="636.500" y="342.500" width="1.500" height="3"/></g>
<g fill="#1f2836">
<polygon points="649,307 658,299.500 658,303.500 649,311"/>
<rect x="655" y="270" width="2.500" height="6.500"/><rect x="655" y="327" width="2.500" height="6.500"/>
<rect x="669.500" y="249" width="2" height="5"/><rect x="670" y="322" width="2" height="5"/>
<polygon points="650,345 657,341 657,347.500 650,347.800"/>
</g>
<rect x="627.300" y="302" width="1.800" height="4" fill="#4d607c"/>
</g>
<g id="item9">
<polygon points="683,192 722,157 853,173 817,205.500" fill="#5c728b"/>
<polygon points="683,191.500 817,205 812.500,242 683,226" fill="url(#g9front)"/>
<polygon points="816.500,205.200 853,172.700 853,202 812.300,242" fill="#42566e"/>
<!-- openings -->
<g stroke="#33445a" stroke-width="0.7">
<polygon points="705,173 722.400,157.200 755.600,161.200 737,178.400" fill="#627990"/>
<polygon points="754,179 770,163 803.600,167 786.400,184.400" fill="#627990"/>
<polygon points="803,184.400 819,169 852.400,173 836,189.600" fill="#627990"/>
</g>
<g fill="#202a37">
<polygon points="712.400,171.600 723.600,162 745.600,164.400 735,175.200"/>
<polygon points="761,178 771.600,168 794,170.400 783.600,181.600"/>
<polygon points="810,183.600 820.400,174 842.400,176.400 832.400,187.200"/>
</g>
<g fill="#465a72">
<polygon points="723.600,162 745.600,164.400 739.500,171 722.500,169.200 719.500,165.600"/>
<polygon points="771.600,168 794,170.400 788,177 771,175.200 768,171.600"/>
<polygon points="820.400,174 842.400,176.400 836.500,183 819.500,181.200 816.500,177.600"/>
</g>
<g fill="#27323f">
<polygon points="724,191 743,178 750,179 732,193"/><polygon points="772,198 790,184 798,185 780,199"/>
<polygon points="711,192.500 720,193.500 719,196 710,195"/><polygon points="728,194.500 741,196 740,198.500 727,197"/>
<polygon points="760,198 769,199 768,201.500 759,200.500"/><polygon points="776,200 789,201.500 788,204 775,202.500"/>
<polygon points="688,189.500 694,190 693,193 687,192.500"/><polygon points="809,204 815,204.600 814,207.500 808,207"/>
</g>
<circle cx="699" cy="209" r="4.200" fill="#14181e"/><circle cx="748" cy="215.600" r="4.200" fill="#14181e"/><circle cx="797" cy="221.600" r="4.200" fill="#14181e"/>
<polygon points="683,226 812.500,242 812.500,243 700,229.500 690,228 686,232 683,230" fill="#4a5f78"/>
</g>
<g id="item7">
<!-- front 3 sections base -->
<polygon points="682.900,275.500 815.200,291 815.200,400.700 682.900,385.200" fill="url(#gCovBase)"/>
<!-- walls seen through front -->
<polygon points="682.900,275.500 704.400,278 704.400,364.100 682.900,385.200" fill="#a3a3a3"/>
<polygon points="728.700,281 748.700,283.300 748.700,368.600 728.700,390.700" fill="#9d9d9d"/>
<polygon points="769.800,285.800 790.800,288.200 790.800,373 769.800,395.200" fill="#a1a1a1"/>
<!-- floor -->
<polygon points="682.900,385.200 704.400,364.100 728.700,367 728.700,390.500" fill="#c6c6c6"/>
<polygon points="728.700,390.700 748.700,368.600 769.800,371 769.800,395.400" fill="#c4c4c4"/>
<polygon points="769.800,395.200 790.800,373 815.200,376 815.200,400.700" fill="#c2c2c2"/>
<!-- faint rect in middle -->
<polygon points="729,329.500 769,334 769,347 729,342.500" fill="none" stroke="#b0b0b0" stroke-width="0.500" opacity="0.5"/>
<!-- left flange -->
<polygon points="682.900,275.500 704.400,255 711.700,258.800 697,273.500 690,276.300" fill="#adadad"/>
<polygon points="704.400,255 711.700,258.800 710,261 703,257" fill="#d8d8d8"/>
<!-- divider tops + tabs -->
<polygon points="728.700,281 746,264 749,266 749,283.300" fill="#b4b4b4"/>
<polygon points="769.800,285.800 787,269 790.800,271 790.800,288.200" fill="#b4b4b4"/>
<polygon points="725.400,268.800 732.100,261.700 748.700,261.100 752,263.300 736.500,276.600 728.700,275.500" fill="#9a9a9a"/>
<polygon points="767.100,274.400 773.700,267.700 789.700,266.200 793,268.800 778.200,282.100 769.800,281" fill="#9a9a9a"/>
<polygon points="733,262.500 748,262 738,271 729,270" fill="#b2b2b2"/>
<polygon points="774.500,268.500 789,267.200 779.500,276.200 770.500,275.300" fill="#b2b2b2"/>
<!-- right side -->
<polygon points="815.200,291 835.100,272.100 835.800,381.900 815.200,400.700" fill="url(#gCovSide)"/>
<polygon points="807.500,285.800 828.500,268.500 835.100,272.100 815.200,291" fill="#b0b0b0"/>
<polygon points="812.800,290.700 816,291 816,400.800 812.800,400.400" fill="#9c9c9c"/>
<polygon points="815.200,400.700 835.800,381.900 835.800,377.500 815.200,396" fill="#b4b4b4"/>
<polygon points="682.900,385.200 815.200,400.700 815.200,397.500 682.900,382.200" fill="#9f9f9f"/>
<polygon points="696.500,274 705.300,265.800 705.300,278 696.500,277" fill="#c9c9c9"/>
<polygon points="682.900,275.500 815.200,291 815.200,293.600 682.900,278" fill="#a6a6a6"/>
<g stroke="#747474" stroke-width="1.200" fill="none">
<polyline points="682.900,275.500 682.900,385.200 815.200,400.700 815.200,291 682.900,275.500" stroke-width="1.100"/>
<line x1="728.700" y1="281" x2="728.700" y2="392"/><line x1="769.800" y1="285.800" x2="769.800" y2="396.500"/>
<polyline points="815.200,400.700 835.800,381.900 835.100,272.100" stroke="#b0b0b0" stroke-width="0.800"/>
</g>
<!-- bottom details -->
<g fill="#8d8d8d">
<polygon points="692,383.500 707,368.500 710,369 697,384"/><polygon points="703,379.500 722,381.800 722,385 703,382.700"/><polygon points="708,376.500 716,377.400 716,380 708,379.200"/>
<polygon points="731,390 750,367 754,367.500 737,390.700"/><polygon points="745,384.500 764,386.800 764,390 745,387.700"/><polygon points="750,381.500 758,382.400 758,385 750,384.200"/>
<polygon points="772,394.500 792,371.500 796,372 778,395.200"/><polygon points="787,389.500 806,391.800 806,395 787,392.700"/><polygon points="792,386.500 800,387.400 800,390 792,389.200"/>
</g>
</g>
<g id="item8">
<!-- front base -->
<polygon points="848.400,376.300 978.800,391.600 978.800,418.800 848.400,402.700" fill="#dedede"/>
<!-- walls -->
<polygon points="848.400,376.300 869.600,378.800 869.600,383.500 849,402.700" fill="#b6b6b6"/>
<polygon points="893.200,381.400 914.200,383.800 914.200,386.500 893.200,407.800" fill="#b0b0b0"/>
<polygon points="934,386.200 955,388.600 955,391.300 934,412.900" fill="#b0b0b0"/>
<!-- above front edge -->
<polygon points="848.400,376.300 869.200,356 876.500,358.900 862.300,374.400 858,377.400" fill="#a2a2a2"/>
<polygon points="893.200,381.400 914.200,364.700 914.200,384 " fill="#adadad"/>
<polygon points="934,386.200 955,369.500 955,388.800" fill="#adadad"/>
<polygon points="890.400,371.200 898,363 913.300,360.700 918.100,364.100 903.400,378 895.500,376.600 890.900,375.500" fill="#8e8e8e"/>
<polygon points="931.200,376 938.800,368.100 954.100,366.100 958.400,369.200 944.200,382.800 936.300,381.400 931.700,380.200" fill="#8e8e8e"/>
<polygon points="899,364 913,362 904,371 895,370" fill="#a6a6a6"/>
<polygon points="940,369.200 954,367.200 945,376.200 936,375.200" fill="#a6a6a6"/>
<!-- floor lighter -->
<polygon points="849,402.700 870,384.800 893.200,387.500 893.200,407.800" fill="#e9e9e9"/>
<polygon points="893.200,407.800 914.200,386.500 934,388.800 934,412.900" fill="#e7e7e7"/>
<polygon points="934,412.900 955,391.300 978.800,394 978.800,418.800" fill="#e6e6e6"/>
<!-- right side -->
<polygon points="978.800,391.600 999,373.800 1000,398.400 978.800,418.800" fill="#d9d9d9"/>
<polygon points="971,387 992.500,370.800 999,373.800 978.800,391.600" fill="#b3b3b3"/>
<polygon points="861.900,374.600 869.600,367.400 869.600,379.500 861.900,378.500" fill="#c6c6c6"/>
<polygon points="848.400,376.300 978.800,391.600 978.800,394.600 848.400,379.300" fill="#a8a8a8"/>
<g stroke="#777" stroke-width="1.200" fill="none">
<polyline points="848.400,376.300 848.400,402.700 978.800,418.800 978.800,391.600 848.400,376.300" stroke-width="0.900"/>
<line x1="893.200" y1="381.400" x2="893.200" y2="408.300"/><line x1="934" y1="386.200" x2="934" y2="413.400"/>
</g>
</g>

<g id="labels" stroke="#2c2c2c" stroke-width="1.100">
<circle cx="440.800" cy="80.800" r="9.800" fill="#fff"/>
<circle cx="485.500" cy="12.300" r="9.800" fill="#d6dade"/>
<circle cx="311.900" cy="187.800" r="9.800" fill="#dbdbd3"/>
<circle cx="183.400" cy="263.600" r="9.800" fill="#dbdbd3"/>
<circle cx="260.500" cy="314.500" r="9.800" fill="#dbdbd3"/>
<circle cx="99.300" cy="394" r="9.800" fill="#dbdbd3"/>
<circle cx="643.800" cy="230.900" r="9.800" fill="#dbdbd3"/>
<circle cx="721.600" cy="143" r="9.800" fill="#a9c9dd"/>
<circle cx="701.600" cy="239" r="9.800" fill="#a9c9dd"/>
<circle cx="866.700" cy="336.900" r="9.800" fill="#a9c9dd"/>
</g>
<g class="n">
<text x="440.800" y="86">1</text>
<text x="485.500" y="17.500">6</text>
<text x="311.900" y="193">5</text>
<text x="183.400" y="268.800">2</text>
<text x="260.500" y="319.700">3</text>
<text x="99.300" y="399.200">4</text>
<text x="643.800" y="236.100">5</text>
<text x="721.600" y="148.200">9</text>
<text x="701.600" y="244.200">7</text>
<text x="866.700" y="342.100">8</text>
</g>
<text x="614.600" y="146.800" font-size="9" fill="#1a1a1a" stroke="#1a1a1a" stroke-width="0.300" text-anchor="middle" transform="rotate(-90 614.600 146.800)">IC01_00618a</text>

</svg>
<svg id="txt" width="1000" height="767" viewBox="0 0 1000 767">
<g stroke="#333" stroke-width="1.1">
<circle cx="11.5" cy="521.5" r="9.6" fill="#fff"/>
<circle cx="11.5" cy="578.5" r="9.6" fill="#c4c4c4"/>
<circle cx="11.5" cy="619.5" r="9.6" fill="#c4c4c4"/>
<circle cx="11.5" cy="643" r="9.6" fill="#c4c4c4"/>
<circle cx="11.5" cy="666.5" r="9.6" fill="#c4c4c4"/>
<circle cx="11.5" cy="708.5" r="9.6" fill="#c4c4c4"/>
<circle cx="542.5" cy="578.5" r="9.6" fill="#a8c7dc"/>
<circle cx="542.5" cy="619.5" r="9.6" fill="#a8c7dc"/>
<circle cx="542.5" cy="661" r="9.6" fill="#a8c7dc"/>
<circle cx="541.5" cy="706.1" r="8.9" fill="#d4d4cc"/>
<circle cx="541.5" cy="728.7" r="8.9" fill="#a6c5d7"/>
</g>
<g class="n">
<text x="11.5" y="526.7">1</text>
<text x="11.5" y="583.7">2</text>
<text x="11.5" y="624.7">3</text>
<text x="11.5" y="648.2">4</text>
<text x="11.5" y="671.7">5</text>
<text x="11.5" y="713.7">6</text>
<text x="542.5" y="583.7">7</text>
<text x="542.5" y="624.7">8</text>
<text x="542.5" y="666.2">9</text>
</g>
<g class="t" transform="translate(0 0.35)">
<text x="28" y="526.6">Contattori in aria 3RT10 e 3RT14, grandezze costruttive S6, S10 e S12</text>
<text x="28" y="583.4">Blocchetto di contatti ausiliari elettronico ritardato (ritardato all’eccitazione</text>
<text x="28" y="601.1">o alla diseccitazione o per funzione stella-triangolo)</text>
<text x="28" y="624.4">Blocchetti di contatti ausiliari a 4 poli</text>
<text x="28" y="647.9">Blocchetto di contatti ausiliari a 1 polo (max. 4 montabili a scatto)</text>
<text x="28" y="671.4">Blocchetto di contatti ausiliari a 2 poli, per montaggio laterale a destra</text>
<text x="28" y="689.2">o a sinistra</text>
<text x="28" y="713.4">Limitatore di sovratensione (gruppo RC) montabile sulla bobina in alto</text>
<text x="558.3" y="583.4">Calotta di copertura per allacciamenti con capicorda e sbarre,</text>
<text x="558.3" y="601.1">diversa per le grandezze costruttive S6 e S10/S12</text>
<text x="558.3" y="624.4">Copertura per morsetti, diversa per le grandezze costruttive S6 e</text>
<text x="558.3" y="642.1">S10/S12</text>
<text x="558.3" y="665.9">Blocco morsetti, diverso per le grandezze costruttive S6 e S10/S12</text>
<text x="557.3" y="711.4">Uguali accessori per grandezze costruttive S6 ... S12</text>
<text x="557.3" y="735.2">Accessori diversi in funzione della grandezza costruttiva</text>
</g>
</svg>
</body></html>
